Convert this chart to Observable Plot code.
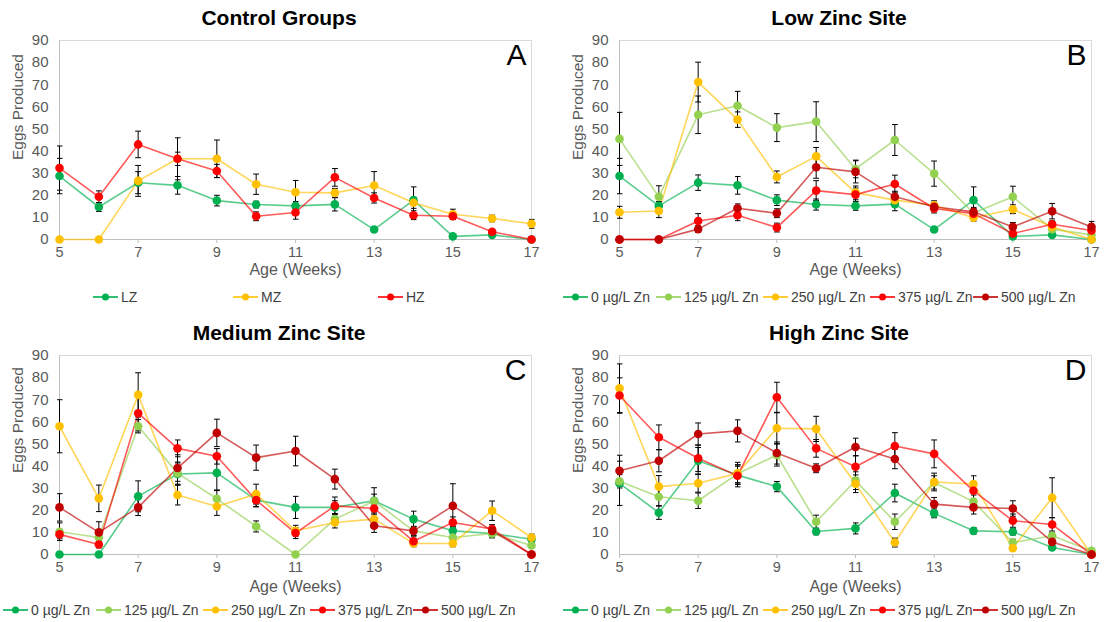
<!DOCTYPE html>
<html>
<head>
<meta charset="utf-8">
<script src="https://cdn.jsdelivr.net/npm/d3@7"></script>
<script src="https://cdn.jsdelivr.net/npm/@observablehq/plot@0.6"></script>
<style>
  body { margin: 0; background: #fff; font-family: "Liberation Sans", Arial, sans-serif; }
  #root { position: relative; width: 1116px; height: 622px; overflow: hidden; }
  .title { position: absolute; width: 558px; text-align: center; font-weight: bold; font-size: 21px; color: #000; line-height: 24px; }
  .chart { position: absolute; }
  .legend { position: absolute; height: 20px; font-size: 14px; color: #404040; }
  .item { position: absolute; top: 0; display: flex; align-items: center; height: 20px; white-space: nowrap; }
  .item svg { margin-right: 3px; }
</style>
</head>
<body>
<div id="root"></div>
<script>
// Age in weeks (x axis) and axis ticks
const weeks = [5, 6, 7, 8, 9, 10, 11, 12, 13, 14, 15, 16, 17];
const xTicks = [5, 7, 9, 11, 13, 15, 17];
const yTicks = [0, 10, 20, 30, 40, 50, 60, 70, 80, 90];

// Series names and colours
const controlNames = ["LZ", "MZ", "HZ"];
const controlColors = ["#00b050", "#ffc000", "#ff0000"];
const zincNames = ["0 µg/L Zn", "125 µg/L Zn", "250 µg/L Zn", "375 µg/L Zn", "500 µg/L Zn"];
const zincColors = ["#00b050", "#92d050", "#ffc000", "#ff0000", "#c00000"];

// A: Control groups (mean eggs produced, standard error)
const controlLZ   = [28.7, 14.7, 25.7, 24.5, 17.6, 15.8, 15.2, 15.9, 4.5, 17.8, 1.4, 2.1, 0];
const controlLZse = [8, 2, 5, 4, 2.4, 1.5, 2, 3, 1, 6, 0.5, 0.5, 0];
const controlMZ   = [0, 0, 26.5, 36.5, 36.5, 25, 21.4, 21.1, 24.4, 16.6, 11.4, 9.5, 7.1];
const controlMZse = [0, 0, 7, 3, 8.5, 4.6, 5.3, 2, 6.3, 2.5, 2.3, 1.5, 2];
const controlHZ   = [32.3, 19.3, 43, 36.5, 31, 10.5, 12.2, 28.1, 18.8, 11, 10.5, 3.5, 0];
const controlHZse = [10, 2.7, 6, 9.5, 3, 2, 3, 4, 2.3, 2, 1.5, 1, 0];

// B: Low zinc site
const low0     = [28.7, 15.2, 25.7, 24.5, 17.8, 15.8, 15.2, 16, 4.5, 17.8, 1.4, 2.1, 0];
const low0se   = [8, 2, 3.5, 4, 2.4, 2.5, 2, 3, 1, 6, 0.5, 0.5, 0];
const low125   = [45.5, 19.3, 56.4, 60.5, 50.6, 53.3, 31.9, 45, 29.8, 12, 19.3, 4.7, 2.1];
const low125se = [12, 5, 8.5, 6.5, 6.3, 9, 4, 7, 5.7, 2, 4.8, 1.5, 1];
const low250   = [12.3, 12.9, 71.2, 54.2, 28.3, 37.6, 21.2, 17.8, 15.5, 9.8, 13.7, 5.7, 0];
const low250se = [2.7, 3, 9, 3.5, 2.7, 4, 3, 2, 2, 1.5, 2, 1, 0];
const low375   = [0, 0, 8.4, 11, 5.4, 22.1, 20.3, 25.1, 14, 11.7, 2.7, 6.9, 4.1];
const low375se = [0, 0, 3.3, 2.5, 2, 4.5, 3, 4, 2, 2, 1, 1.5, 1.5];
const low500   = [0, 0, 4.7, 14.1, 11.9, 32.7, 30.6, 19.3, 14.8, 12.5, 5.7, 12.8, 5.7];
const low500se = [0, 0, 1.5, 2, 2, 5, 5, 2.5, 2, 2, 2, 3.5, 2.5];

// C: Medium zinc site
const med0     = [0, 0, 26.3, 36.4, 36.9, 24.6, 21.3, 21.3, 24.3, 16, 10.7, 9.5, 6.9];
const med0se   = [0, 0, 7, 5, 8, 3, 5, 3, 3, 3.6, 2, 2, 1.5];
const med125   = [10.3, 7.7, 58, 36.8, 25.2, 12.7, 0, 16, 24.2, 10.7, 7.7, 9.5, 4.1];
const med125se = [4, 2, 3, 5, 4, 2.5, 0, 2.5, 6, 2, 1.5, 1.5, 1];
const med250   = [58, 25.4, 72.2, 26.9, 21.7, 27.3, 10.7, 14.5, 16, 5, 5, 19.8, 7.7];
const med250se = [12, 6, 10, 4.5, 4, 4.5, 2.5, 2.5, 4, 1.5, 1.5, 4.4, 1.5];
const med375   = [9.1, 4.5, 63.9, 48, 44.4, 24.6, 9.7, 22, 20.8, 6, 14.5, 11.5, 0];
const med375se = [2, 1.5, 8, 3.8, 3.5, 3, 2.5, 4, 2, 2, 2.5, 2, 0];
const med500   = [21.3, 10, 21.3, 39.1, 55, 43.8, 46.8, 34.1, 13, 10.7, 22, 10.7, 0];
const med500se = [6.2, 4.8, 3.7, 6, 6.2, 5.7, 6.7, 4.5, 3, 2, 10, 2, 0];

// D: High zinc site
const high0     = [32.2, 18.9, 42.4, 35.9, 30.7, 10.4, 11.8, 27.8, 18.6, 10.7, 10.3, 3.2, 0];
const high0se   = [10, 3, 6, 4, 2.3, 1.5, 2.5, 4, 2, 1.5, 1.5, 1, 0];
const high125   = [33.1, 26.1, 24.3, 36.5, 45, 14.8, 33.4, 14.8, 32.6, 23.9, 5.4, 8.5, 1.7];
const high125se = [3, 4, 3.5, 4, 5, 3, 4, 3.5, 3, 3, 1.5, 1.5, 0.5];
const high250   = [75.2, 30.7, 32.2, 36.7, 57.1, 56.8, 32, 5.4, 32.8, 31.9, 2.9, 25.7, 0];
const high250se = [11, 5, 4, 5, 7, 5.7, 4, 2, 4, 3.7, 1, 9, 0];
const high375   = [71.9, 53, 43.5, 35.6, 71.1, 48, 39.7, 49.1, 45.5, 28.8, 15.3, 13.6, 0];
const high375se = [8, 5.6, 6, 5, 6.8, 4, 5, 6, 6.3, 4, 3, 3, 0];
const high500   = [37.9, 42.4, 54.5, 55.9, 45.9, 39, 48.6, 43.2, 22.8, 21.3, 20.8, 5.7, 0];
const high500se = [7, 5, 5, 5, 5, 2, 4, 4.4, 3, 3, 3.5, 1.5, 0];

const panels = [
  {
    letter: "A", title: "Control Groups", left: 0, top: 0, width: 558, names: controlNames, colors: controlColors,
    values: [controlLZ, controlMZ, controlHZ], errors: [controlLZse, controlMZse, controlHZse],
    labelDy: 35, ylabelDy: 20, legendTop: 287, legendX: [93, 233, 378]
  },
  {
    letter: "B", title: "Low Zinc Site", left: 560, top: 0, width: 556, names: zincNames, colors: zincColors,
    values: [low0, low125, low250, low375, low500], errors: [low0se, low125se, low250se, low375se, low500se],
    labelDy: 35, ylabelDy: 20, legendTop: 287, legendX: [3, 96, 203, 310, 413]
  },
  {
    letter: "C", title: "Medium Zinc Site", left: 0, top: 315, width: 558, names: zincNames, colors: zincColors,
    values: [med0, med125, med250, med375, med500], errors: [med0se, med125se, med250se, med375se, med500se],
    labelDy: 37, ylabelDy: 18, legendTop: 600, legendX: [3, 96, 203, 310, 413]
  },
  {
    letter: "D", title: "High Zinc Site", left: 560, top: 315, width: 556, names: zincNames, colors: zincColors,
    values: [high0, high125, high250, high375, high500], errors: [high0se, high125se, high250se, high375se, high500se],
    labelDy: 37, ylabelDy: 18, legendTop: 600, legendX: [3, 96, 203, 310, 413]
  }
];

const root = document.getElementById("root");

function chart(p) {
  const rows = p.names.flatMap((name, s) =>
    weeks.map((week, i) => ({week, name, value: p.values[s][i], se: p.errors[s][i]}))
  );
  return Plot.plot({
    width: p.width,
    height: 253,
    marginLeft: 59,
    marginRight: p.width - 59 - 472,
    marginTop: 10,
    marginBottom: 44,
    style: {fontFamily: "Liberation Sans, Arial, sans-serif", fontSize: "15px", color: "#595959", background: "transparent", overflow: "visible"},
    x: {domain: [5, 17]},
    y: {domain: [0, 90]},
    color: {domain: p.names, range: p.colors},
    marks: [
      Plot.frame({stroke: "#d9d9d9"}),
      Plot.ruleY([0], {stroke: "#bfbfbf"}),
      Plot.ruleX([5], {stroke: "#bfbfbf"}),
      Plot.axisX(xTicks, {tickSize: 4, tickPadding: 3, stroke: "#bfbfbf", fill: "#595959", label: null, fontSize: 14.5}),
      Plot.axisY(yTicks, {tickSize: 0, tickPadding: 11, fill: "#595959", label: null, fontSize: 15}),
      Plot.text(["Age (Weeks)"], {frameAnchor: "bottom", dy: p.labelDy, fontSize: 16, fill: "#595959"}),
      Plot.text(["Eggs Produced"], {frameAnchor: "left", dx: -41, dy: p.ylabelDy, rotate: -90, fontSize: 15.5, fill: "#595959"}),
      Plot.text([p.letter], {frameAnchor: "top-right", dx: -5, dy: 3, fontSize: 30, lineAnchor: "top", textAnchor: "end", fill: "#000"}),
      Plot.line(rows, {x: "week", y: "value", z: "name", stroke: "name", strokeWidth: 1.6, strokeOpacity: 0.65}),
      Plot.link(rows.filter(d => d.se > 0), {
        x1: "week", x2: "week", y1: d => d.value - d.se, y2: d => d.value + d.se,
        stroke: "#000", strokeWidth: 1, markerStart: "tick", markerEnd: "tick"
      }),
      Plot.dot(rows, {x: "week", y: "value", fill: "name", r: 4.3})
    ]
  });
}

function legendSymbol(color) {
  const ns = "http://www.w3.org/2000/svg";
  const svg = document.createElementNS(ns, "svg");
  svg.setAttribute("width", 25);
  svg.setAttribute("height", 10);
  const line = document.createElementNS(ns, "line");
  line.setAttribute("x1", 0); line.setAttribute("x2", 25);
  line.setAttribute("y1", 5); line.setAttribute("y2", 5);
  line.setAttribute("stroke", color); line.setAttribute("stroke-width", 1.6);
  const dot = document.createElementNS(ns, "circle");
  dot.setAttribute("cx", 12.5); dot.setAttribute("cy", 5); dot.setAttribute("r", 3.5);
  dot.setAttribute("fill", color);
  svg.append(line, dot);
  return svg;
}

for (const p of panels) {
  const title = document.createElement("div");
  title.className = "title";
  title.style.left = p.left + "px";
  title.style.top = (p.top + 6) + "px";
  title.textContent = p.title;
  root.append(title);

  const wrap = document.createElement("div");
  wrap.className = "chart";
  wrap.style.left = p.left + "px";
  wrap.style.top = (p.top + 30) + "px";
  wrap.append(chart(p));
  root.append(wrap);

  const legend = document.createElement("div");
  legend.className = "legend";
  legend.style.left = p.left + "px";
  legend.style.top = p.legendTop + "px";
  p.names.forEach((name, i) => {
    const item = document.createElement("div");
    item.className = "item";
    item.style.left = p.legendX[i] + "px";
    const label = document.createElement("span");
    label.textContent = name;
    item.append(legendSymbol(p.colors[i]), label);
    legend.append(item);
  });
  root.append(legend);
}
</script>
</body>
</html>
